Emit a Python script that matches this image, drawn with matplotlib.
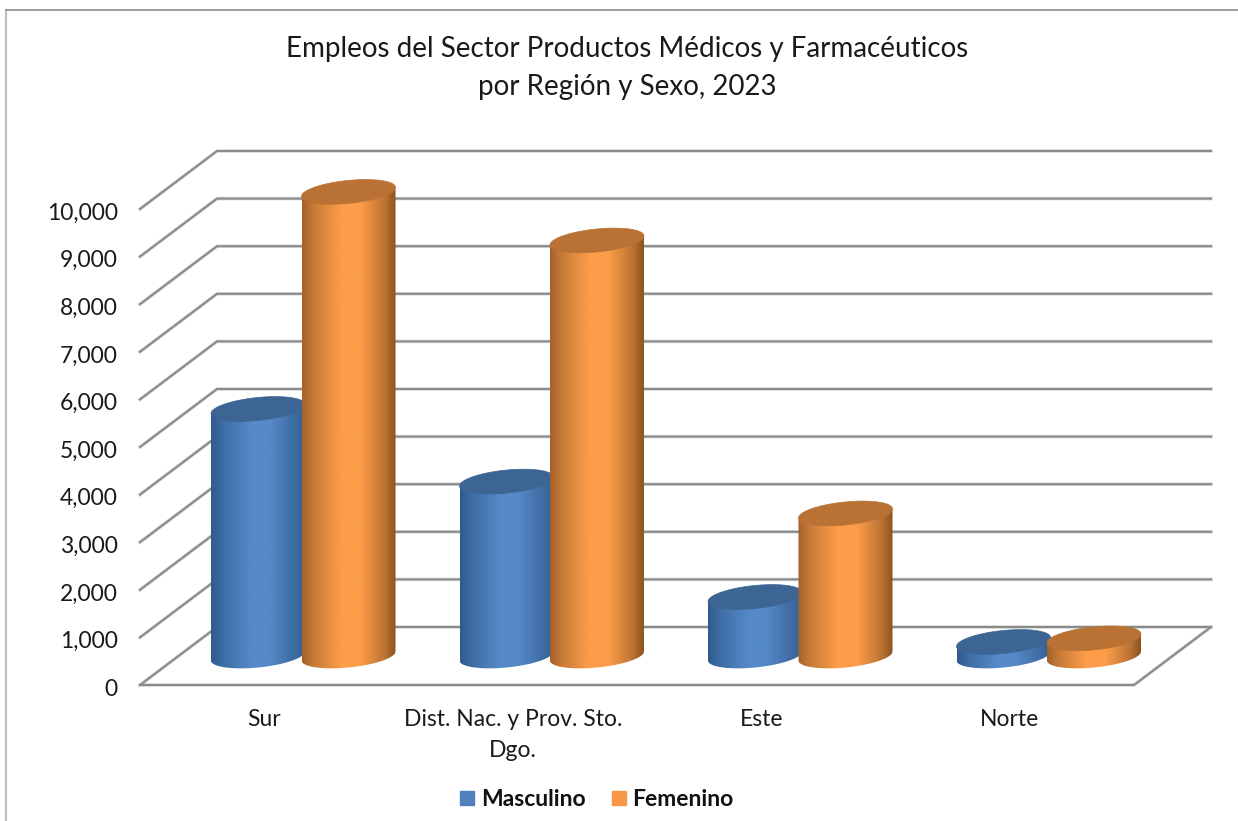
import numpy as np
import matplotlib
matplotlib.use("Agg")
import matplotlib.pyplot as plt
from matplotlib.colors import LinearSegmentedColormap
from matplotlib.lines import Line2D
from matplotlib.patches import Patch, Polygon
from matplotlib.transforms import ScaledTranslation

regiones = ["Sur", "Dist. Nac. y Prov. Sto.\nDgo.", "Este", "Norte"]
masculino = [5190, 3665, 1240, 295]
femenino = [9750, 8730, 2995, 370]
ticks_y = [0, 1000, 2000, 3000, 4000, 5000, 6000, 7000, 8000, 9000, 10000]

W, H = 1238, 821
plt.rcParams['font.family'] = ['Lato', 'DejaVu Sans']

fig = plt.figure(figsize=(W/100, H/100), dpi=100, facecolor='white')

# front floor edge 140-1134 at y=685, back wall reaches x=1212 and y=151
ax = fig.add_axes([140/W, 1-685/H, (1212-140)/W, (685-151)/H])
PX_X = 248.5  # pixels per category
PX_Y = 47.6/1000  # pixels per unit
ax.patch.set_visible(False)
for s in ax.spines.values():
    s.set_visible(False)

dx = 77/PX_X    # depth of the floor, in data units
dy = 58/PX_Y
x0, x1 = -0.5, 3.5

# walls and floor
for v in ticks_y:
    xs = [x0, x0+dx, x1+dx]
    ys = [v, v+dy, v+dy]
    ax.plot(xs, ys, color='#dcdcdc', lw=2.6, solid_joinstyle='miter', zorder=1, clip_on=False)
    ax.plot(xs, ys, color='#8a8a8a', lw=1.5, solid_joinstyle='miter', zorder=2, clip_on=False)
xs = [x0, x1, x1+dx]
ys = [0, 0, dy]
ax.plot(xs, ys, color='#dcdcdc', lw=2.6, zorder=1, clip_on=False)
ax.plot(xs, ys, color='#8a8a8a', lw=1.5, zorder=2, clip_on=False)

azul = LinearSegmentedColormap.from_list('azul', [(0, '#2f5a8c'), (0.12, '#3d6ca3'), (0.42, '#5589c8'),
                                                  (0.62, '#5589c8'), (0.88, '#3f6da4'), (1, '#34608f')])
naranja = LinearSegmentedColormap.from_list('naranja', [(0, '#a5612a'), (0.12, '#c67a38'), (0.42, '#fd9d49'),
                                                        (0.62, '#fd9d49'), (0.88, '#bd7434'), (1, '#8c5320')])
grad = np.linspace(0, 1, 256).reshape(1, -1)

a = 47/PX_X      # half width of a cylinder
b = 11.5/PX_Y    # half height of its ellipse
tilt = 4.5/PX_Y  # the ellipses lean up to the right
sep = 45.25/PX_X


def cilindro(cx, valor, cmap, tapa, z):
    base = dy/2
    top = base + valor
    t = np.linspace(np.pi, 2*np.pi, 80)
    px = cx + a*np.cos(t)
    py = base + b*np.sin(t) + tilt*np.cos(t)
    verts = np.column_stack([np.r_[px, cx+a, cx-a], np.r_[py, top+tilt, top-tilt]])
    body = Polygon(verts, closed=True, facecolor='none', edgecolor='none', zorder=z)
    ax.add_patch(body)
    im = ax.imshow(grad, cmap=cmap, extent=[cx-a, cx+a, 0, top+2*tilt], aspect='auto',
                   interpolation='bilinear', zorder=z)
    im.set_clip_path(body)
    t = np.linspace(0, 2*np.pi, 160)
    ax.fill(cx + a*np.cos(t), top + b*np.sin(t) + tilt*np.cos(t), color=tapa, lw=0.5, zorder=z+0.1)


for i in range(len(regiones)):
    cx = i + 78/PX_X/2
    cilindro(cx - sep, masculino[i], azul, '#3c6594', 3 + i)
    cilindro(cx + sep, femenino[i], naranja, '#b97233', 3.5 + i)

ax.set_xlim(-0.5, -0.5 + 1072/PX_X)
ax.set_ylim(0, 534/PX_Y)

ax.set_yticks(ticks_y)
ax.set_yticklabels([f"{v:,}" for v in ticks_y], fontsize=16.5, color='#1a1a1a')
ax.set_xticks(range(len(regiones)))
ax.set_xticklabels(regiones, fontsize=16.5, color='#1a1a1a', linespacing=1.6)
ax.tick_params(axis='y', length=0, pad=16)
ax.tick_params(axis='x', length=0, pad=17)
# y labels sit a little lower than the lines
shift = ScaledTranslation(0, -1.5/72, fig.dpi_scale_trans)
for lab in ax.get_yticklabels():
    lab.set_transform(lab.get_transform() + shift)

fig.text(627/W, 1-68/H, "Empleos del Sector Productos Médicos y Farmacéuticos\npor Región y Sexo, 2023",
         ha='center', va='center', fontsize=20, color='#1a1a1a', linespacing=1.55)

handles = [Patch(color='#4f81bd', label='Masculino'), Patch(color='#f79646', label='Femenino')]
fig.legend(handles=handles, loc='center', bbox_to_anchor=(597/W, 1-799.5/H), ncol=2, frameon=False,
           prop={'size': 16.5, 'weight': 'bold'}, handlelength=0.61, handleheight=0.61,
           handletextpad=0.3, columnspacing=1.13, labelcolor='#111111')

# chart frame
fig.add_artist(Line2D([6/W, 6/W], [0, 1-10/H], color='#bdbdbd', lw=1.5))
fig.add_artist(Line2D([6/W, 1], [1-10/H, 1-10/H], color='#8c8c8c', lw=1.2))

fig.savefig('out.png', dpi=100)
